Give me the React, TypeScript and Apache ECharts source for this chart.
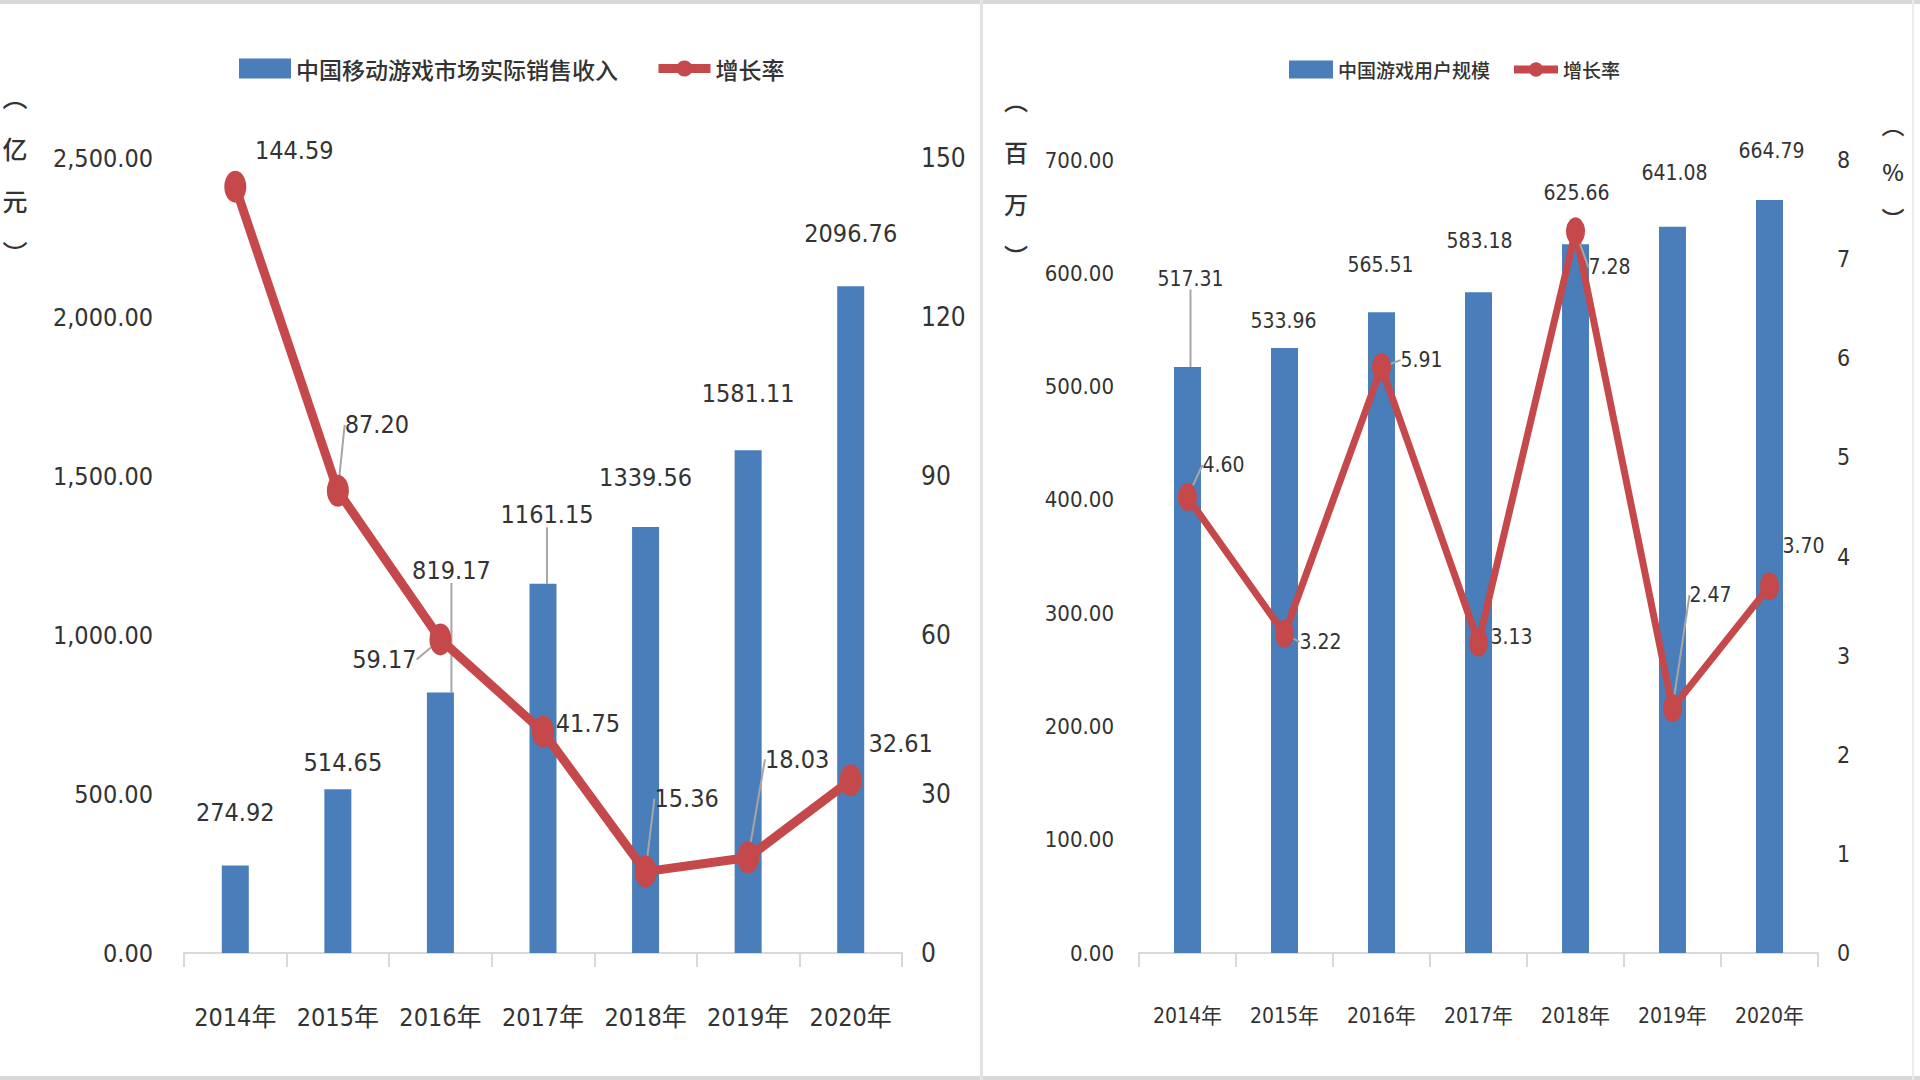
import React, { useEffect, useRef } from "react";
import * as echarts from "echarts";

const categories = ["2014年", "2015年", "2016年", "2017年", "2018年", "2019年", "2020年"];
const revenue = [274.92, 514.65, 819.17, 1161.15, 1339.56, 1581.11, 2096.76];
const revenueGrowth = [144.59, 87.2, 59.17, 41.75, 15.36, 18.03, 32.61];
const users = [517.31, 533.96, 565.51, 583.18, 625.66, 641.08, 664.79];
const userGrowth = [4.6, 3.22, 5.91, 3.13, 7.28, 2.47, 3.7];

const leftAxisTicks = [0, 500, 1000, 1500, 2000, 2500];
const leftRateTicks = [0, 30, 60, 90, 120, 150];
const rightAxisTicks = [0, 100, 200, 300, 400, 500, 600, 700];
const rightRateTicks = [0, 1, 2, 3, 4, 5, 6, 7, 8];

// label offsets (relative to the mark) and leader-line flags
const revenueLabelOffsets = [[0, -53], [5, -27], [11, -122], [4, -69], [0, -50], [0, -57], [0, -53]];
const revenueLeader = [false, false, true, true, false, false, false];
const revenueGrowthOffsets = [[59, -36], [39, -66], [-56, 20], [45, -8], [41, -73], [49, -98], [50, -37]];
const revenueGrowthLeader = [false, true, true, false, true, true, false];
const userLabelOffsets = [[3, -88], [-1, -27], [-1, -47], [1, -51], [1, -51], [2, -54], [2, -49]];
const userLeader = [true, false, false, false, false, false, false];
const userGrowthOffsets = [[36, -32], [36, 8], [40, -7], [33, -6], [34, 36], [38, -113], [34, -40]];
const userGrowthLeader = [true, true, true, false, true, true, false];

const BLUE = "#4a7ebb";
const RED = "#c5484a";
const TXT = "#333333";
const NUM_FONT = '"Liberation Sans Narrow", "DejaVu Sans Condensed", "Noto Sans CJK SC", sans-serif';
const CJK_FONT = '"Noto Sans CJK SC", "DejaVu Sans Condensed", sans-serif';
const LEADER = { color: "#a6a6a6", width: 2 };

function layoutFn(offsets: number[][], isBar: boolean) {
  return (p: any) => ({
    x: p.rect.x + p.rect.width / 2 + offsets[p.dataIndex][0],
    y: p.rect.y + (isBar ? 0 : p.rect.height / 2) + offsets[p.dataIndex][1],
    align: "center",
    verticalAlign: "middle",
  });
}

function items(values: number[], leader: boolean[]) {
  return values.map((v, i) => ({
    value: v,
    labelLine: { show: leader[i], lineStyle: LEADER },
  }));
}

export default function App() {
  const ref = useRef<HTMLDivElement>(null);
  useEffect(() => {
    if (!ref.current) return;
    const chart = echarts.init(ref.current, null, { renderer: "svg" });
    const xAxisCommon = (gridIndex: number, fontSize: number) => ({
      type: "category",
      gridIndex,
      data: categories,
      boundaryGap: true,
      axisLine: { lineStyle: { color: "#d9d9d9", width: 2 } },
      axisTick: { show: true, length: 14, lineStyle: { color: "#d9d9d9", width: 2 } },
      axisLabel: { color: TXT, fontSize, fontFamily: NUM_FONT, margin: 52, interval: 0 },
      splitLine: { show: false },
    });
    const yAxisCommon = (gridIndex: number, ticks: number[], fmt: (v: number) => string, fontSize: number, margin: number, position: string) => ({
      type: "value",
      gridIndex,
      position,
      min: ticks[0],
      max: ticks[ticks.length - 1],
      interval: ticks[1] - ticks[0],
      axisLine: { show: false },
      axisTick: { show: false },
      splitLine: { show: false },
      axisLabel: { color: TXT, fontSize, fontFamily: NUM_FONT, margin, formatter: fmt },
    });
    const fmt2comma = (v: number) => v.toLocaleString("en-US", { minimumFractionDigits: 2, maximumFractionDigits: 2 });
    const fmt2 = (v: number) => v.toFixed(2);
    const fmtInt = (v: number) => String(v);

    chart.setOption({
      animation: false,
      backgroundColor: "#ffffff",
      legend: [
        {
          data: [{ name: "中国移动游戏市场实际销售收入", icon: "rect" }, "增长率"],
          left: 234,
          top: 52,
          itemWidth: 52,
          itemHeight: 20,
          itemGap: 36,
          lineStyle: { width: 9 },
          textStyle: { color: TXT, fontSize: 23, fontWeight: 500, fontFamily: CJK_FONT },
        },
        {
          data: [{ name: "中国游戏用户规模", icon: "rect" }, "增长率"],
          left: 1284,
          top: 55,
          itemWidth: 44,
          itemHeight: 18,
          itemGap: 20,
          lineStyle: { width: 8 },
          textStyle: { color: TXT, fontSize: 19, fontWeight: 500, fontFamily: CJK_FONT },
        },
      ],
      grid: [
        { left: 184, top: 158, width: 718, height: 795 },
        { left: 1139, top: 160, width: 679, height: 793 },
      ],
      xAxis: [xAxisCommon(0, 25), xAxisCommon(1, 21)],
      yAxis: [
        yAxisCommon(0, leftAxisTicks, fmt2comma, 25, 31, "left"),
        yAxisCommon(0, leftRateTicks, fmtInt, 26, 19, "right"),
        yAxisCommon(1, rightAxisTicks, fmt2, 22, 25, "left"),
        yAxisCommon(1, rightRateTicks, fmtInt, 23, 19, "right"),
      ],
      graphic: [
        { type: "rect", shape: { x: 0, y: 0, width: 1920, height: 4 }, style: { fill: "#d9d9d9" }, silent: true },
        { type: "rect", shape: { x: 0, y: 1076, width: 1920, height: 4 }, style: { fill: "#d9d9d9" }, silent: true },
        { type: "rect", shape: { x: 980, y: 0, width: 3, height: 1080 }, style: { fill: "#e3e3e3" }, silent: true },
        { type: "rect", shape: { x: 1912, y: 0, width: 2, height: 1080 }, style: { fill: "#ececec" }, silent: true },
        {
          type: "text", x: 15, y: 70,
          style: { text: "︵\n亿\n元\n︶", fill: TXT, font: `500 25px ${CJK_FONT}`, align: "center", verticalAlign: "top", lineHeight: 52 },
        },
        {
          type: "text", x: 1016, y: 73,
          style: { text: "︵\n百\n万\n︶", fill: TXT, font: `500 24px ${CJK_FONT}`, align: "center", verticalAlign: "top", lineHeight: 52 },
        },
        {
          type: "text", x: 1893, y: 100,
          style: { text: "︵\n%\n︶", fill: TXT, font: `500 23px ${CJK_FONT}`, align: "center", verticalAlign: "top", lineHeight: 47 },
        },
      ],
      series: [
        {
          name: "中国移动游戏市场实际销售收入",
          type: "bar",
          xAxisIndex: 0,
          yAxisIndex: 0,
          barWidth: 27,
          itemStyle: { color: BLUE },
          data: items(revenue, revenueLeader),
          label: { show: true, position: "top", color: TXT, fontSize: 25, fontFamily: NUM_FONT, formatter: (p: any) => p.value.toFixed(2) },
          labelLayout: layoutFn(revenueLabelOffsets, true),
          z: 2,
        },
        {
          name: "增长率",
          type: "line",
          xAxisIndex: 0,
          yAxisIndex: 1,
          symbol: "circle",
          symbolSize: [22, 32],
          lineStyle: { color: RED, width: 9 },
          itemStyle: { color: RED },
          data: items(revenueGrowth, revenueGrowthLeader),
          label: { show: true, position: "right", color: TXT, fontSize: 25, fontFamily: NUM_FONT, formatter: (p: any) => p.value.toFixed(2) },
          labelLayout: layoutFn(revenueGrowthOffsets, false),
          z: 3,
        },
        {
          name: "中国游戏用户规模",
          type: "bar",
          xAxisIndex: 1,
          yAxisIndex: 2,
          barWidth: 27,
          itemStyle: { color: BLUE },
          data: items(users, userLeader),
          label: { show: true, position: "top", color: TXT, fontSize: 21, fontFamily: NUM_FONT, formatter: (p: any) => p.value.toFixed(2) },
          labelLayout: layoutFn(userLabelOffsets, true),
          z: 2,
        },
        {
          name: "增长率",
          type: "line",
          xAxisIndex: 1,
          yAxisIndex: 3,
          symbol: "circle",
          symbolSize: [19, 28],
          lineStyle: { color: RED, width: 7 },
          itemStyle: { color: RED },
          data: items(userGrowth, userGrowthLeader),
          label: { show: true, position: "right", color: TXT, fontSize: 21, fontFamily: NUM_FONT, formatter: (p: any) => p.value.toFixed(2) },
          labelLayout: layoutFn(userGrowthOffsets, false),
          z: 3,
        },
      ],
    });
    return () => chart.dispose();
  }, []);
  return <div ref={ref} style={{ position: "absolute", left: 0, top: 0, width: 1920, height: 1080 }} />;
}
